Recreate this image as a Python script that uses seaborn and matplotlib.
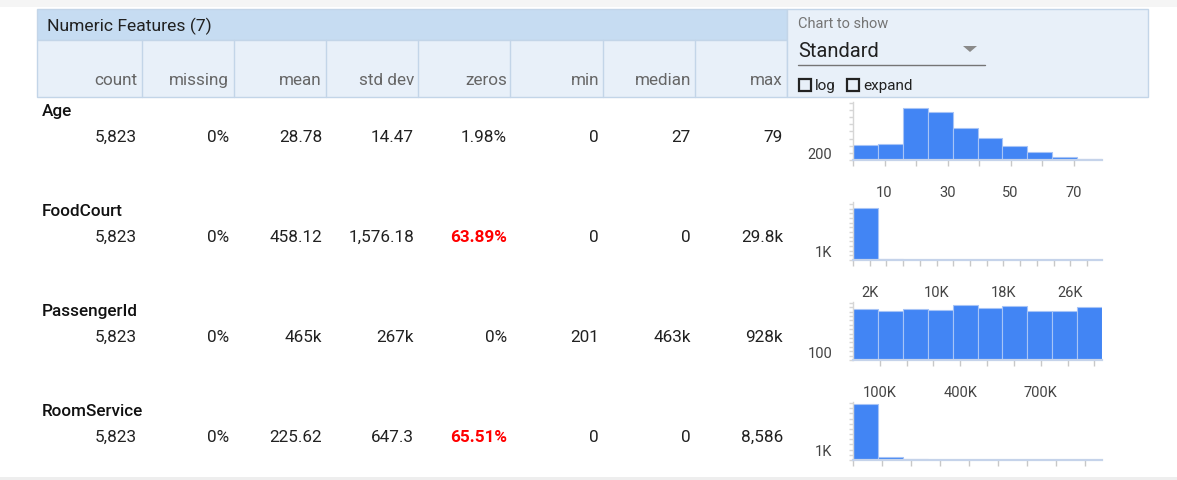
import matplotlib
matplotlib.use("Agg")
import matplotlib.pyplot as plt
from matplotlib.patches import Rectangle, Polygon
import numpy as np
import pandas as pd
import seaborn as sns

W, H = 1177, 481

# table values
features = ["Age", "FoodCourt", "PassengerId", "RoomService"]
columns = ["count", "missing", "mean", "std dev", "zeros", "min", "median", "max"]
count = ["5,823", "5,823", "5,823", "5,823"]
missing = ["0%", "0%", "0%", "0%"]
mean = ["28.78", "458.12", "465k", "225.62"]
std_dev = ["14.47", "1,576.18", "267k", "647.3"]
zeros = ["1.98%", "63.89%", "0%", "65.51%"]
zeros_pct = [1.98, 63.89, 0.0, 65.51]
mins = ["0", "0", "201", "0"]
median = ["27", "0", "463k", "0"]
maxs = ["79", "29.8k", "928k", "8,586"]

# histogram bin counts (10 equal bins between min and max)
hist_min = [0, 0, 201, 0]
hist_max = [79, 29800, 928000, 8586]
hist_counts = [
    [409, 446, 1442, 1330, 884, 614, 381, 214, 74, 29],
    [5610, 125, 40, 20, 10, 8, 4, 3, 2, 1],
    [576, 561, 580, 572, 625, 591, 610, 553, 557, 598],
    [5450, 260, 70, 20, 10, 5, 4, 2, 1, 1],
]
x_ticks = [
    list(range(0, 80, 10)),
    list(range(0, 30000, 2000)),
    list(range(100000, 1000000, 100000)),
    list(range(0, 9000, 1000)),
]
x_labels = [
    ["", "10", "", "30", "", "50", "", "70"],
    ["", "2K", "", "", "", "10K", "", "", "", "18K", "", "", "", "26K", ""],
    ["100K", "", "", "400K", "", "", "700K", "", ""],
    [""] * 9,
]
y_step = [200, 500, 50, 500]
y_top = [1620, 6200, 660, 5600]
y_label_at = [200, 1000, 100, 1000]
y_label_txt = ["200", "1K", "100", "1K"]

sns.set_style("white")
plt.rcParams["font.family"] = ["Roboto", "DejaVu Sans"]

fig = plt.figure(figsize=(W / 100, H / 100), dpi=100)
bg = fig.add_axes([0, 0, 1, 1])
bg.set_xlim(0, W)
bg.set_ylim(H, 0)
bg.axis("off")

dark_band = "#c6dcf2"
light_band = "#e8f0f9"
border = "#c3d5e8"
txt = "#212121"
head_txt = "#666666"
fs = 12.3

# page strips
bg.add_patch(Rectangle((0, 0), W, 8, color="#f5f5f5", lw=0))
bg.add_patch(Rectangle((0, 478), W, 3, color="#eeeeee", lw=0))

# header block
bg.add_patch(Rectangle((37, 10), 750, 31, facecolor=dark_band, edgecolor=border, lw=1))
bg.add_patch(Rectangle((37, 41), 750, 57, facecolor=light_band, edgecolor=border, lw=1))
bg.add_patch(Rectangle((787, 10), 361, 88, facecolor=light_band, edgecolor=border, lw=1))
bg.text(47, 31, "Numeric Features (7)", fontsize=12.6, color=txt, va="baseline", ha="left")

col_right = [137, 229, 322, 414, 507, 599, 691, 783]
separators = [142, 234, 326, 418, 510, 603, 695]
for sx in separators:
    bg.plot([sx, sx], [41, 98], color=border, lw=1)
for cx, name in zip(col_right, columns):
    bg.text(cx, 85, name, fontsize=fs, color=head_txt, ha="right", va="baseline")

# chart selector
bg.text(798, 28, "Chart to show", fontsize=10.5, color="#757575", va="baseline", ha="left")
bg.text(798, 57, "Standard", fontsize=14.5, color=txt, va="baseline", ha="left")
bg.plot([798, 985], [66, 66], color="#757575", lw=1)
bg.add_patch(Polygon([[963, 47], [977, 47], [970, 53]], closed=True, color="#8a8a8a", lw=0))
bg.add_patch(Rectangle((799, 80), 12, 12, facecolor="none", edgecolor="#222222", lw=1.6))
bg.text(815, 90, "log", fontsize=11, color=txt, va="baseline", ha="left")
bg.add_patch(Rectangle((847, 80), 12, 12, facecolor="none", edgecolor="#222222", lw=1.6))
bg.text(863, 90, "expand", fontsize=11, color=txt, va="baseline", ha="left")

# rows
rows = list(zip(count, missing, mean, std_dev, zeros, mins, median, maxs))
for i, (feat, vals) in enumerate(zip(features, rows)):
    y0 = 116 + 100 * i
    bg.text(42, y0, feat, fontsize=fs, color="#111111", weight="medium",
            family=["Roboto Medium", "Roboto", "DejaVu Sans"],
            ha="left", va="baseline")
    for j, (cx, v) in enumerate(zip(col_right, vals)):
        red = j == 4 and zeros_pct[i] > 10
        bg.text(cx, y0 + 26, v, fontsize=fs, ha="right", va="baseline",
                color="#ff0000" if red else txt, weight="bold" if red else "normal")

# histograms
bar_color = "#4285f4"
for i in range(4):
    base = 161 + 100 * i
    ax = fig.add_axes([853 / W, 1 - base / H, 249 / W, 58 / H])
    edges = np.linspace(hist_min[i], hist_max[i], 11)
    df = pd.DataFrame({"value": (edges[:-1] + edges[1:]) / 2,
                       "n": np.asarray(hist_counts[i], dtype=float)})
    sns.histplot(data=df, x="value", weights="n", bins=edges.tolist(), ax=ax,
                 color=bar_color, edgecolor="#a7c4f6", linewidth=0.8, alpha=1)
    ax.set_xlim(hist_min[i], hist_max[i])
    ax.set_ylim(0, y_top[i])
    ax.set_xticks(x_ticks[i])
    ax.set_xticklabels(x_labels[i])
    yt = list(range(0, y_top[i] + 1, y_step[i]))
    ax.set_yticks(yt)
    ax.set_yticklabels([y_label_txt[i] if t == y_label_at[i] else "" for t in yt])
    ax.set_xlabel("")
    ax.set_ylabel("")
    ax.set_facecolor("none")
    for s in ["top", "right"]:
        ax.spines[s].set_visible(False)
    ax.spines["left"].set_color("#d6d6d6")
    ax.spines["left"].set_linewidth(1)
    ax.spines["bottom"].set_color("#c5d3ea")
    ax.spines["bottom"].set_linewidth(1.6)
    ax.tick_params(axis="x", length=4, width=1, color="#c8c8c8", pad=14,
                   labelsize=10.5, labelcolor="#444444", bottom=True)
    ax.tick_params(axis="y", length=3, width=1, color="#d6d6d6", pad=12,
                   labelsize=10.5, labelcolor="#444444", left=True)

fig.savefig("out.png", dpi=100)
